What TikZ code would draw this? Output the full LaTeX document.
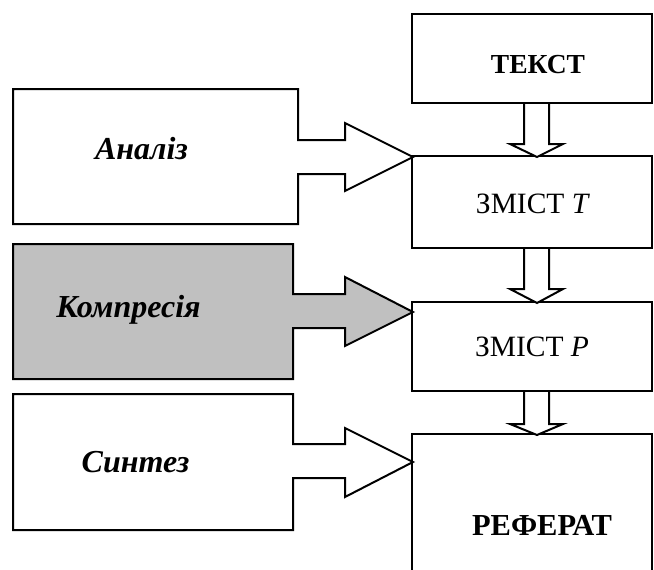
\documentclass[tikz,border=0pt]{standalone}
\usepackage{fontspec}
\setmainfont{Liberation Serif}
\usetikzlibrary{calc}
\definecolor{compfill}{RGB}{192,192,192}
\begin{document}
\begin{tikzpicture}[x=1pt,y=-1pt,line width=2pt,line join=miter,
  stagebox/.style={draw,fill=white,minimum width=240pt,inner sep=0pt},
  txt/.style={inner sep=0pt,anchor=base},
  stagetxt/.style={txt,font=\fontsize{29}{34}\selectfont},
  optxt/.style={txt,font=\fontsize{32}{38}\selectfont\bfseries\itshape},
  opbox/.style={draw,fill=white},
  downarrow/.style={draw,fill=white}]
\useasboundingbox (0,0) rectangle (654,570);

% stages of the text (right column)
\node[stagebox,minimum height=89pt] (tekst) at (532,58.5) {};
\node[stagebox,minimum height=92pt] (zmistT) at (532,202) {};
\node[stagebox,minimum height=89pt] (zmistP) at (532,346.5) {};
\coordinate (refNW) at (412,434);
\coordinate (refNE) at (652,434);
\draw (412,572) -- (refNW) -- (refNE) -- (652,572);

\node[stagetxt,font=\fontsize{27.5}{33}\selectfont\bfseries] (tTekst) at (538,73) {ТЕКСТ};
\node[stagetxt,font=\fontsize{29.5}{35}\selectfont] (tZmistT) at (533,213) {ЗМІСТ \textit{T}};
\node[stagetxt,font=\fontsize{29.5}{35}\selectfont] (tZmistP) at (532,356) {ЗМІСТ \textit{P}};
\node[stagetxt,font=\fontsize{30.5}{36}\selectfont\bfseries] (tReferat) at (542,535) {РЕФЕРАТ};

% hollow arrows between the stages
\draw[downarrow] ([xshift=-8pt]tekst.south) -- ++(0,40) -- ++(-14,0) -- ++(27,13) -- ++(26,-13) -- ++(-14,0) -- ++(0,-40);
\draw[downarrow] ([xshift=-8pt]zmistT.south) -- ++(0,40) -- ++(-14,0) -- ++(27,14) -- ++(26,-14) -- ++(-14,0) -- ++(0,-40);
\draw[downarrow] ([xshift=-8pt]zmistP.south) -- ++(0,32) -- ++(-14,0) -- ++(27,11) -- ++(26,-11) -- ++(-14,0) -- ++(0,-32);

% operations (left column), each a box with a block arrow
\draw[opbox] (13,89) -- (298,89) -- (298,140) -- (345,140) -- (345,123) -- (413,157)
  -- (345,191) -- (345,174) -- (298,174) -- (298,224) -- (13,224) -- cycle;
\draw[opbox,fill=compfill] (13,244) -- (293,244) -- (293,294) -- (345,294) -- (345,277) -- (413,312)
  -- (345,346) -- (345,328) -- (293,328) -- (293,379) -- (13,379) -- cycle;
\draw[opbox] (13,394) -- (293,394) -- (293,444) -- (345,444) -- (345,428) -- (413,462)
  -- (345,497) -- (345,478) -- (293,478) -- (293,530) -- (13,530) -- cycle;

\node[optxt] (tAnaliz) at (141.5,159) {Аналіз};
\node[optxt] (tKompr) at (128.5,317) {Компресія};
\node[optxt] (tSyntez) at (135.5,472) {Синтез};
\end{tikzpicture}
\end{document}
